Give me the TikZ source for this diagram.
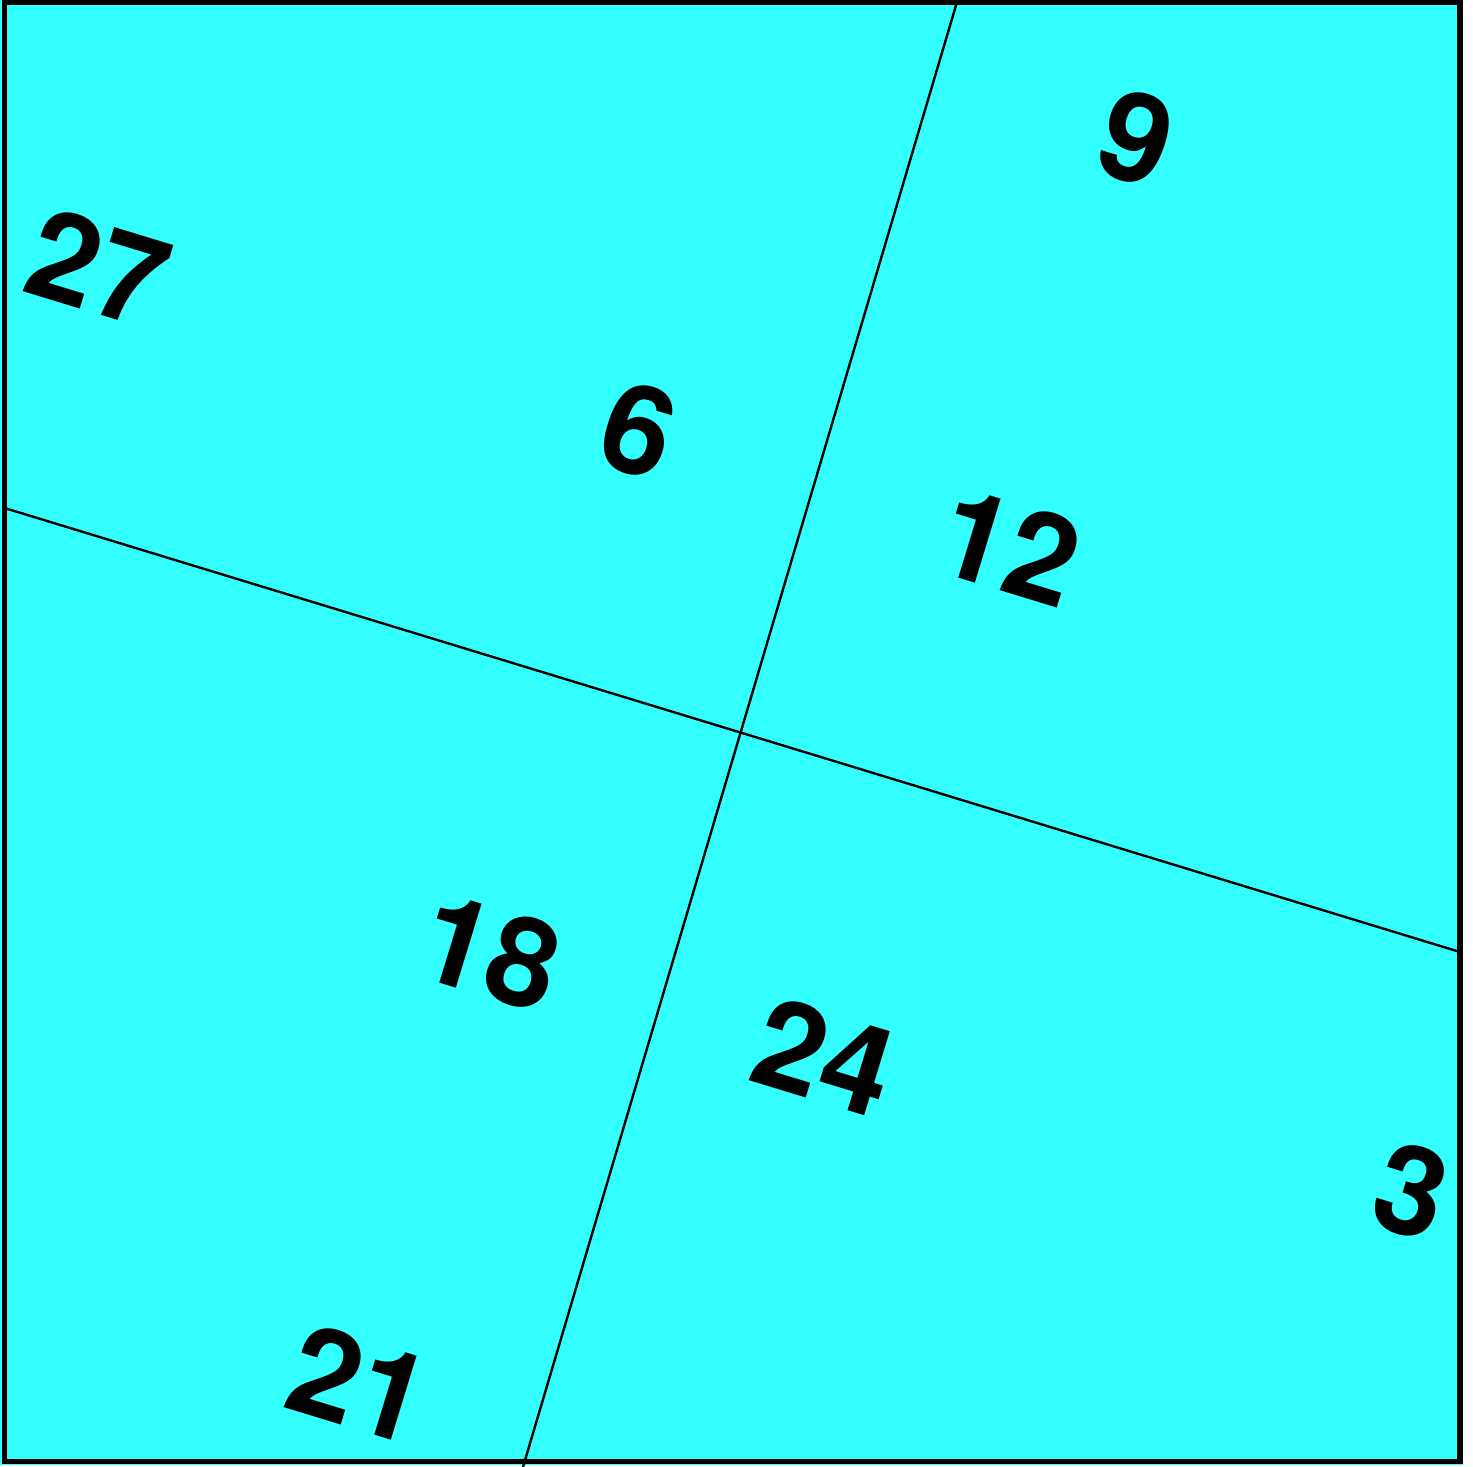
\documentclass[tikz,border=0pt]{standalone}
\usepackage{fontspec}
\setmainfont{TeX Gyre Heros}
\definecolor{aqua}{RGB}{51,255,255}

\begin{document}
\begin{tikzpicture}[x=0.5pt,y=-0.5pt]
	\tikzstyle{num}=[font=\fontsize{62}{62}\selectfont\bfseries, rotate=-17, inner sep=0pt]
	\tikzstyle{cut}=[line width=1.2pt]
	\useasboundingbox (0,0) rectangle (1473,1467);
	\fill[white] (0,0) rectangle (1473,1467);
	\fill[aqua] (0,0) rectangle (1463,1465);
	% the two crossing lines
	\coordinate (top) at (957,2);
	\coordinate (bot) at (523,1467);
	\coordinate (lft) at (4.5,508);
	\coordinate (rgt) at (1460,952);
	\draw[cut] (top) -- (bot);
	\draw[cut] (lft) -- (rgt);
	\draw[line width=2.6pt] (4.5,2) rectangle (1460,1461.5);
	% labels
	\node[num] (n27) at (99,268) {27};
	\node[num] (n9) at (1136,138) {9};
	\node[num] (n6) at (638,430) {6};
	\node[num] (n12) at (1010,547) {12};
	\node[num] (n18) at (490,952) {18};
	\node[num] (n24) at (825,1057) {24};
	\node[num] (n3) at (1411,1191) {3};
	\node[num] (n21) at (360,1384) {21};
\end{tikzpicture}
\end{document}
